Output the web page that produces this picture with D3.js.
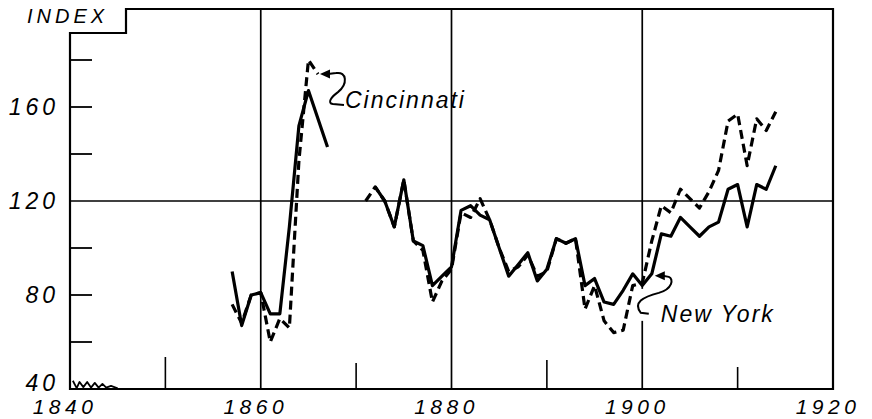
<!DOCTYPE html>
<html>
<head>
<meta charset="utf-8">
<script src="https://cdn.jsdelivr.net/npm/d3@7/dist/d3.min.js"></script>
<style>
  body { margin: 0; background: #fff; }
  text { font-family: "Liberation Sans", Arial, sans-serif; font-style: italic; fill: #000; }
</style>
</head>
<body>
<div id="chart"></div>
<script>
// early segment (Civil War years)
var yearsEarly = [1857, 1858, 1859, 1860, 1861, 1862, 1863, 1864, 1865, 1866, 1867];
var solidEarly = [90, 67, 80, 81, 72, 72, 109, 152, 167, 155, 143];
var dashedEarly = [76, 68, 80, 81, 60, 70, 66, 137, 180, 174, null];

// later segment
var yearsLate = [1871, 1872, 1873, 1874, 1875, 1876, 1877, 1878, 1879, 1880,
	1881, 1882, 1883, 1884, 1885, 1886, 1887, 1888, 1889, 1890,
	1891, 1892, 1893, 1894, 1895, 1896, 1897, 1898, 1899, 1900,
	1901, 1902, 1903, 1904, 1905, 1906, 1907, 1908, 1909, 1910,
	1911, 1912, 1913, 1914];
var solidLate = [null, 126, 120, 109, 129, 103, 101, 84, 88, 92,
	116, 118, 114, 112, 100, 88, 93, 98, 86, 91,
	104, 102, 104, 84, 87, 77, 76, 82, 89, 84,
	89, 106, 105, 113, 109, 105, 109, 111, 125, 127,
	109, 127, 125, 135];
var dashedLate = [120, 126, 120, 109, 129, 103, 99, 77, 86, 91,
	115, 113, 121, 112, 100, 90, 92, 97, 88, 90,
	104, 102, 104, 74, 84, 69, 64, 65, 84, 85,
	103, 118, 115, 125, 121, 117, 124, 133, 154, 157,
	135, 155, 150, 158];

var yearTicks = [1840, 1860, 1880, 1900, 1920];
var yearMinor = [1850, 1870, 1890, 1910];
var indexTicks = [40, 80, 120, 160];
var indexMinor = [60, 100, 140, 180];

var width = 872;
var height = 419;

var x = d3.scaleLinear().domain([1840, 1920]).range([70, 833]);
var y = d3.scaleLinear().domain([40, 160]).range([389, 107]);

var frameTop = 33, notchX = 126, outerTop = 9;
var minorLen = [32, 26, 29, 22];

var svg = d3.select('#chart')
	.append('svg')
	.attr('width', width)
	.attr('height', height);

// grid lines
svg.selectAll('.vgrid')
	.data([1860, 1880, 1900])
	.enter()
	.append('line')
	.attr('x1', function(d){ return x(d); })
	.attr('x2', function(d){ return x(d); })
	.attr('y1', y(40))
	.attr('y2', outerTop)
	.attr('stroke', '#000')
	.attr('stroke-width', 1.7);

svg.append('line')
	.attr('x1', x(1840)).attr('x2', x(1920))
	.attr('y1', y(120)).attr('y2', y(120))
	.attr('stroke', '#000')
	.attr('stroke-width', 1.7);

// frame with the notch for the INDEX label
svg.append('path')
	.attr('d', 'M' + x(1840) + ',' + y(40) +
		'V' + frameTop + 'H' + notchX + 'V' + outerTop +
		'H' + x(1920) + 'V' + y(40) + 'Z')
	.attr('fill', 'none')
	.attr('stroke', '#000')
	.attr('stroke-width', 2.2);

// ticks
svg.selectAll('.ytick')
	.data(indexMinor.concat([80, 160]))
	.enter()
	.append('line')
	.attr('x1', x(1840)).attr('x2', x(1840) + 22)
	.attr('y1', function(d){ return y(d); })
	.attr('y2', function(d){ return y(d); })
	.attr('stroke', '#000')
	.attr('stroke-width', 1.8);

svg.selectAll('.xtick')
	.data(yearMinor)
	.enter()
	.append('line')
	.attr('x1', function(d){ return x(d); })
	.attr('x2', function(d){ return x(d); })
	.attr('y1', y(40))
	.attr('y2', function(d, i){ return y(40) - minorLen[i]; })
	.attr('stroke', '#000')
	.attr('stroke-width', 1.6);

// small squiggle on the base line
var squiggle = [[1840.3, 43.5], [1840.7, 40.4], [1841.0, 43], [1841.4, 40.8], [1841.8, 43],
	[1842.2, 40.6], [1842.6, 42.6], [1843.0, 40.6], [1843.4, 42.2], [1843.8, 40.6], [1844.3, 41.3], [1845, 40.3]];
svg.append('path')
	.attr('d', d3.line().x(function(d){ return x(d[0]); }).y(function(d){ return y(d[1]); })(squiggle))
	.attr('fill', 'none')
	.attr('stroke', '#000')
	.attr('stroke-width', 1.8)
	.attr('stroke-linejoin', 'round');

// labels
svg.selectAll('.ylab')
	.data(indexTicks)
	.enter()
	.append('text')
	.attr('x', 59)
	.attr('y', function(d){ return d == 40 ? y(d) - 6 : y(d); })
	.attr('dy', '0.35em')
	.attr('text-anchor', 'end')
	.style('font-size', '23px')
	.style('letter-spacing', '4px')
	.text(function(d){ return d; });

svg.selectAll('.xlab')
	.data(yearTicks)
	.enter()
	.append('text')
	.attr('x', function(d){ return x(d) - 5; })
	.attr('y', 414)
	.attr('text-anchor', 'middle')
	.style('font-size', '21px')
	.style('letter-spacing', '4.5px')
	.text(function(d){ return d; });

svg.append('text')
	.attr('x', 27).attr('y', 23)
	.style('font-size', '20px')
	.style('letter-spacing', '4px')
	.text('INDEX');

// gap in the 1900 line behind the New York pointer
var nx = x(1901) + 3, ny = y(89) + 2;
svg.append('rect')
	.attr('x', x(1900) - 6).attr('y', ny + 13)
	.attr('width', 12).attr('height', 32)
	.attr('fill', '#fff');

// series
function drawSeries(years, values, dashed){
	var pts = years.map(function(d, i){ return {year: d, value: values[i]}; });
	var line = d3.line()
		.defined(function(d){ return d.value != null; })
		.x(function(d){ return x(d.year); })
		.y(function(d){ return y(d.value); });
	svg.append('path')
		.datum(pts)
		.attr('d', line)
		.attr('fill', 'none')
		.attr('stroke', '#000')
		.attr('stroke-width', 3.2)
		.attr('stroke-linejoin', 'round')
		.attr('stroke-dasharray', dashed ? '9,5' : null);
}
drawSeries(yearsEarly, dashedEarly, true);
drawSeries(yearsEarly, solidEarly, false);
drawSeries(yearsLate, dashedLate, true);
drawSeries(yearsLate, solidLate, false);

// pointer labels
function pointer(tx, ty, hook, label, lx, ly){
	svg.append('path')
		.attr('d', 'M' + tx + ',' + ty + 'l10,-4.5v9z')
		.attr('fill', '#000');
	svg.append('path')
		.attr('d', hook)
		.attr('fill', 'none')
		.attr('stroke', '#000')
		.attr('stroke-width', 2);
	svg.append('text')
		.attr('x', lx).attr('y', ly)
		.style('font-size', '23px')
		.style('letter-spacing', '2px')
		.text(label);
}

var cx = x(1866) + 2, cy = y(174);
pointer(cx, cy,
	'M' + (cx + 8) + ',' + cy + ' L' + (cx + 16) + ',' + (cy - 1) +
	' C' + (cx + 27) + ',' + (cy - 3) + ' ' + (cx + 28) + ',' + (cy + 10) + ' ' + (cx + 18) + ',' + (cy + 18) +
	' C' + (cx + 11) + ',' + (cy + 23) + ' ' + (cx + 7) + ',' + (cy + 29) + ' ' + (cx + 13) + ',' + (cy + 30) +
	' L' + (cx + 24) + ',' + (cy + 31),
	'Cincinnati', cx + 25, cy + 34);

pointer(nx, ny,
	'M' + (nx + 8) + ',' + ny + ' L' + (nx + 14) + ',' + (ny + 1) +
	' C' + (nx + 19) + ',' + (ny + 3) + ' ' + (nx + 18) + ',' + (ny + 13) + ' ' + (nx + 4) + ',' + (ny + 17) +
	' C' + (nx - 12) + ',' + (ny + 21) + ' ' + (nx - 22) + ',' + (ny + 27) + ' ' + (nx - 14) + ',' + (ny + 37) +
	' L' + (nx - 6) + ',' + (ny + 38),
	'New York', nx + 6, ny + 46);
</script>
</body>
</html>
